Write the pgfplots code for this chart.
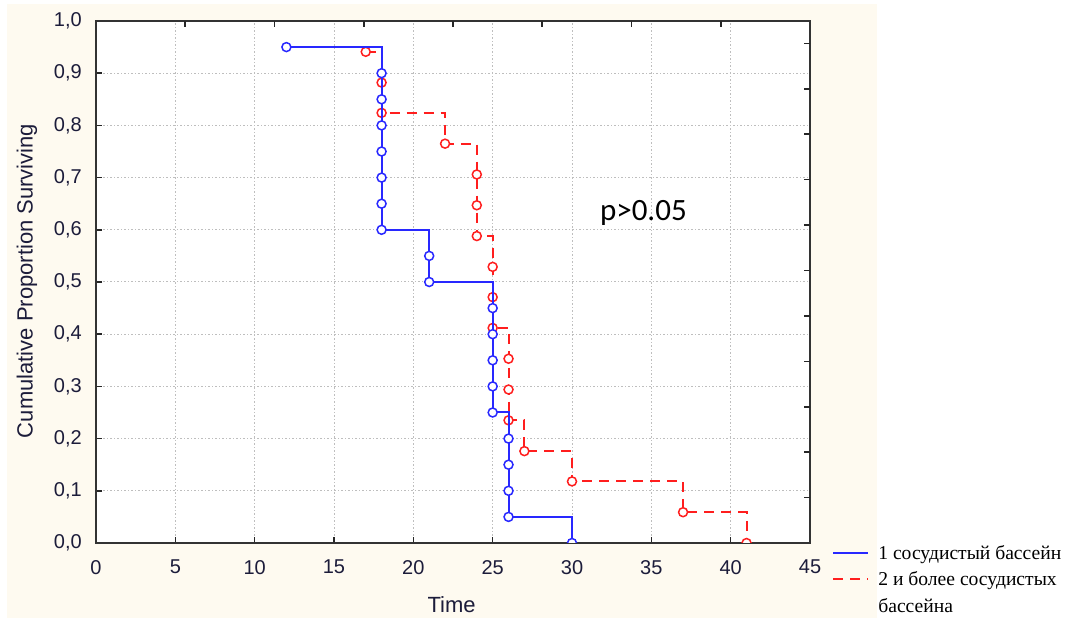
\documentclass[border=0pt]{standalone}
\usepackage{fontspec}
\setmainfont{Liberation Sans}
\newfontfamily\legfont{Liberation Serif}
\newfontfamily\pfont{Carlito}
\usepackage{pgfplots}
\pgfplotsset{compat=1.18}

\definecolor{cream}{RGB}{254,250,240}
\definecolor{ink}{RGB}{28,28,58}
\definecolor{kmblue}{RGB}{40,40,255}
\definecolor{kmred}{RGB}{255,30,30}
\definecolor{gridc}{RGB}{190,190,190}

\begin{document}
\begin{tikzpicture}
\useasboundingbox (0,0) rectangle (1067bp,619bp);
\fill[cream] (7bp,1bp) rectangle (877bp,615bp);

% main axis
\begin{axis}[
  at={(96bp,76bp)}, anchor=south west,
  scale only axis, width=714bp, height=522bp,
  xmin=0, xmax=45, ymin=0, ymax=1,
  axis background/.style={fill=white},
  xtick={0,5,10,15,20,25,30,35,40,45},
  ytick={0,0.1,0.2,0.3,0.4,0.5,0.6,0.7,0.8,0.9,1.0},
  xtick pos=bottom, ytick pos=left,
  tick align=inside,
  major tick length=6bp,
  every tick/.style={line width=1.6bp, black!85},
  axis line style={line width=2bp, black!80},
  grid=major,
  major grid style={gridc, line width=1bp, dash pattern=on 2bp off 2bp on 1bp off 2bp},
  /pgf/number format/assume math mode=true,
  y tick label style={/pgf/number format/use comma, /pgf/number format/fixed,
    /pgf/number format/fixed zerofill, /pgf/number format/precision=1},
  ticklabel style={font=\fontsize{20bp}{24bp}\selectfont, text=ink, inner sep=0pt},
  xticklabel style={anchor=north, yshift=-17bp},
  yticklabel style={anchor=east, xshift=-14bp},
  xlabel={Time},
  ylabel={Cumulative Proportion Surviving},
  label style={font=\fontsize{22bp}{26bp}\selectfont, text=ink},
  xlabel style={at={(axis description cs:0.498,-0.119)}, anchor=center, inner sep=0pt},
  ylabel style={at={(axis description cs:-0.0966,0.502)}, anchor=center, inner sep=0pt},
  clip marker paths=true,
  legend cell align=left,
  legend image code/.code={\draw[line width=2bp, #1] (0bp,0bp) -- (35bp,0bp);},
  legend style={at={(axis description cs:1.031,0.0)}, anchor=north west,
    draw=none, fill=none, inner sep=0pt,
    font=\legfont\fontsize{19.6bp}{23bp}\selectfont,
    row sep=7bp,
    /tikz/every even column/.append style={column sep=0bp},
    /tikz/every odd column/.append style={column sep=7bp}},
]
\addplot[forget plot, const plot, kmred, line width=2bp, dash pattern=on 10bp off 7bp,
  mark=*, mark size=4.5bp, mark options={solid, fill=white, line width=1.5bp}]
  coordinates {
  (17,0.941) (18,0.882) (18,0.824) (22,0.765) (24,0.706) (24,0.647)
  (24,0.588) (25,0.529) (25,0.471) (25,0.412) (26,0.353) (26,0.294)
  (26,0.235) (27,0.176) (30,0.118) (37,0.059) (41,0.000)
  };
\addplot[forget plot, const plot, kmblue, line width=2bp,
  mark=*, mark size=4.5bp, mark options={fill=white, line width=1.5bp}]
  coordinates {
  (12,0.95) (18,0.90) (18,0.85) (18,0.80) (18,0.75) (18,0.70) (18,0.65)
  (18,0.60) (21,0.55) (21,0.50) (25,0.45) (25,0.40) (25,0.35) (25,0.30)
  (25,0.25) (26,0.20) (26,0.15) (26,0.10) (26,0.05) (30,0.00)
  };
\addlegendimage{kmblue}
\addlegendentry{1 сосудистый бассейн}
\addlegendimage{kmred, dash pattern=on 10bp off 7bp}
\addlegendentry{2 и более сосудистых}
\addlegendimage{empty legend}
\addlegendentry{бассейна}
\node[font=\pfont\fontsize{31bp}{35bp}\selectfont, anchor=center] at (axis cs:34.5,0.633) {p>0.05};
\end{axis}

% secondary ticks on top and right, as in the original
\begin{axis}[
  at={(96bp,76bp)}, anchor=south west,
  scale only axis, width=714bp, height=522bp,
  xmin=0, xmax=45, ymin=0, ymax=1,
  axis line style={draw=none},
  xtick={5.625,11.25,16.875,22.5,28.125,33.75,39.375},
  ytick={0.087,0.174,0.261,0.348,0.435,0.522,0.609,0.696,0.783,0.870,0.957},
  xticklabels={}, yticklabels={},
  xtick pos=top, ytick pos=right,
  tick align=inside,
  major tick length=6bp,
  every tick/.style={line width=1.6bp, black!85},
]
\end{axis}
\end{tikzpicture}
\end{document}
